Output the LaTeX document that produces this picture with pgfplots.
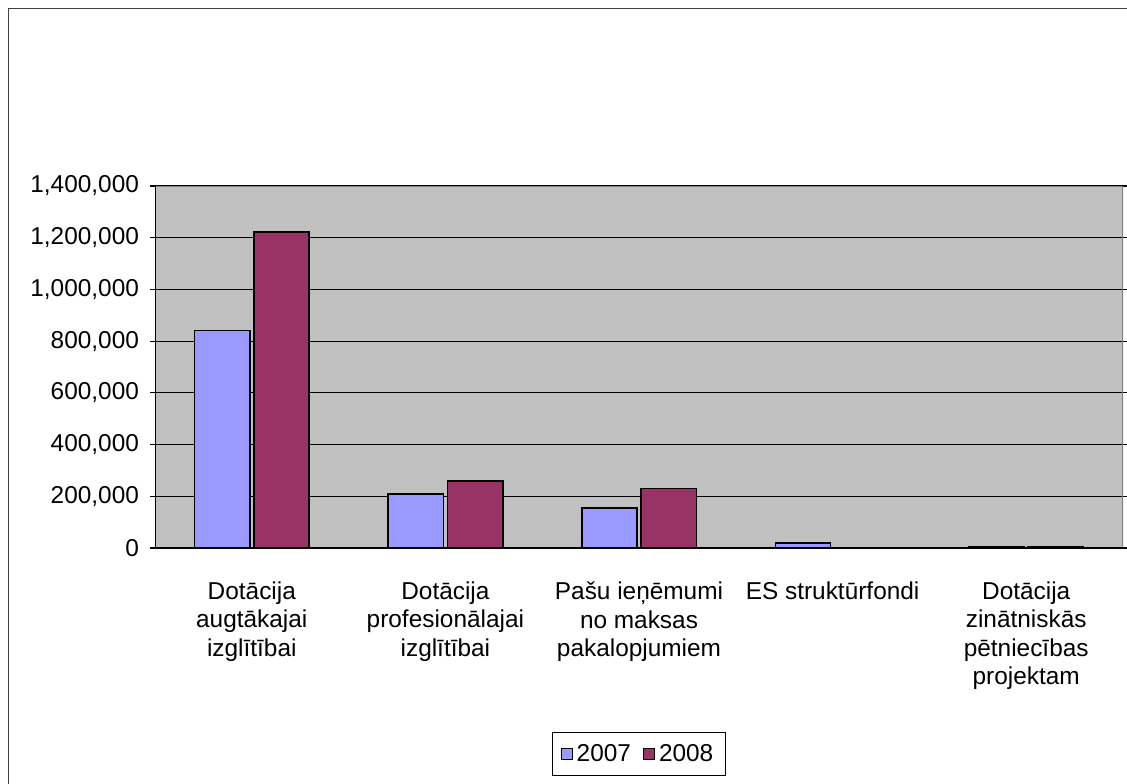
\documentclass[border=0pt]{standalone}
\usepackage{fontspec}
\setmainfont{Liberation Sans}
\usepackage{pgfplots}
\pgfplotsset{compat=1.18}

\definecolor{plotbg}{HTML}{C0C0C0}
\definecolor{c2007}{HTML}{9999FF}
\definecolor{c2008}{HTML}{993366}

\begin{document}
\begin{tikzpicture}
  \begin{axis}[
    at={(77.5pt,-274pt)}, anchor=south west,
    scale only axis,
    width=484pt, height=181pt,
    xmin=-0.5, xmax=4.5,
    ymin=0, ymax=1400000,
    ytick={0,200000,...,1400000},
    scaled y ticks=false,
    /pgf/number format/.cd, fixed, 1000 sep={,}, assume math mode=true,
    /pgfplots/.cd,
    ymajorgrids,
    major grid style={black, line width=0.6pt},
    axis background/.style={fill=plotbg},
    axis line style={draw=none},
    tick align=outside,
    major tick length=2.5pt,
    tick style={black, line width=0.6pt},
    xtick={0,1,2,3,4},
    xticklabels={
      {Dotācija\\augtākajai\\izglītībai},
      {Dotācija\\profesionālajai\\izglītībai},
      {Pašu ieņēmumi\\no maksas\\pakalopjumiem},
      {ES struktūrfondi},
      {Dotācija\\zinātniskās\\pētniecības\\projektam}},
    x tick style={draw=none},
    extra x ticks={-0.5,0.5,1.5,2.5,3.5,4.5},
    extra x tick labels={},
    extra x tick style={major tick length=3.5pt, tick style={black, line width=0.6pt}},
    ticklabel style={font=\fontsize{12.2}{14.1}\selectfont},
    xticklabel style={align=center, anchor=north, yshift=-11pt},
    yticklabel style={xshift=-2pt},
    ybar, bar width=27.65pt,
    legend style={at={(0.5,-0.569)}, anchor=center, legend columns=2,
      draw=black, line width=0.5pt, font=\fontsize{12.2}{14.1}\selectfont,
      inner xsep=4pt, inner ysep=3.5pt,
      /tikz/every even column/.append style={column sep=4pt}},
    legend image code/.code={\draw[#1, draw=black, line width=0.5pt] (0pt,-2.75pt) rectangle (5.5pt,2.75pt);},
  ]
    \addplot[fill=c2007, draw=black, line width=0.8pt] coordinates
      {(0,842000) (1,208000) (2,154000) (3,19000) (4,4000)};
    \addplot[fill=c2008, draw=black, line width=0.8pt] coordinates
      {(0,1223000) (1,260000) (2,230000) (3,0) (4,5000)};
    \legend{2007,2008}
    % plot area frame: black left and bottom, grey top and right
    \draw[black!50, line width=0.8pt] (rel axis cs:0,1) -- (rel axis cs:1,1) -- (rel axis cs:1,0);
    \draw[black, line width=0.6pt] (rel axis cs:0,1) -- (rel axis cs:0,0) -- (rel axis cs:1,0);
  \end{axis}
  % outer chart frame, cut off at the right and bottom like the reference
  \draw[line width=0.8pt, black!75] (4.3pt,-420pt) -- (4.3pt,-4.2pt) -- (600pt,-4.2pt);
  % page = 1127 x 783 px at 0.5pt per px
  \pgfresetboundingbox
  \path[use as bounding box] (0pt,0pt) rectangle (563.5pt,-391.5pt);
\end{tikzpicture}
\end{document}
